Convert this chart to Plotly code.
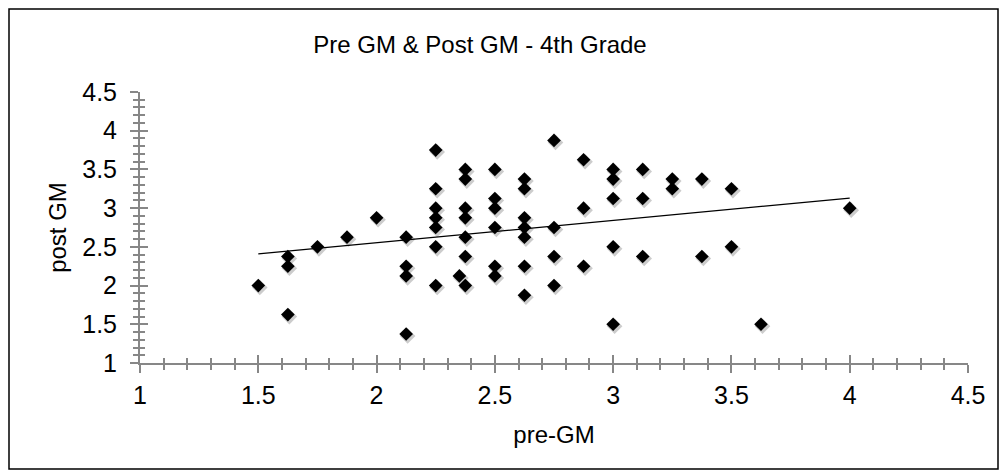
import plotly.graph_objects as go

# ---- data ----
pre_gm = [1.5,
          1.625, 1.625, 1.625,
          1.75,
          1.875,
          2.0,
          2.125, 2.125, 2.125, 2.125,
          2.25, 2.25, 2.25, 2.25, 2.25, 2.25, 2.25,
          2.35,
          2.375, 2.375, 2.375, 2.375, 2.375, 2.375, 2.375,
          2.5, 2.5, 2.5, 2.5, 2.5, 2.5,
          2.625, 2.625, 2.625, 2.625, 2.625, 2.625, 2.625,
          2.75, 2.75, 2.75, 2.75,
          2.875, 2.875, 2.875,
          3.0, 3.0, 3.0, 3.0, 3.0,
          3.125, 3.125, 3.125,
          3.25, 3.25,
          3.375, 3.375,
          3.5, 3.5,
          3.625,
          4.0]
post_gm = [2.0,
           2.375, 2.25, 1.625,
           2.5,
           2.625,
           2.875,
           2.625, 2.25, 2.125, 1.375,
           3.75, 3.25, 3.0, 2.875, 2.75, 2.5, 2.0,
           2.125,
           3.5, 3.375, 3.0, 2.875, 2.625, 2.375, 2.0,
           3.5, 3.125, 3.0, 2.75, 2.25, 2.125,
           3.375, 3.25, 2.875, 2.75, 2.625, 2.25, 1.875,
           3.875, 2.75, 2.375, 2.0,
           3.625, 3.0, 2.25,
           3.5, 3.375, 3.125, 2.5, 1.5,
           3.5, 3.125, 2.375,
           3.375, 3.25,
           3.375, 2.375,
           3.25, 2.5,
           1.5,
           3.0]
trend_x = [1.5, 4.0]
trend_y = [2.41, 3.13]

title_text = "Pre GM & Post GM - 4th Grade"
x_title = "pre-GM"
y_title = "post GM"
x_range = [1, 4.5]
y_range = [1, 4.5]

# ---- layout geometry ----
W, H = 1006, 476
ML, MR, MT, MB = 140, 38, 92, 113
PW = W - ML - MR
PH = H - MT - MB

FONT = "Liberation Sans, Arial, sans-serif"
AXC = "#878787"
TICK_FS = 25
TITLE_FS = 24
AX_TITLE_FS = 24

# shadow offset in pixels -> shifted ranges for a hidden axis pair
sdx, sdy = 1.5, 2.0
xs = (x_range[1] - x_range[0]) / PW * sdx
ys = (y_range[1] - y_range[0]) / PH * sdy

fig = go.Figure()

fig.add_trace(go.Scatter(
    x=pre_gm, y=post_gm, mode="markers", xaxis="x3", yaxis="y3",
    marker=dict(symbol="diamond", size=12, color="rgba(0,0,0,0.2)", line=dict(width=0)),
    hoverinfo="skip", showlegend=False))

fig.add_trace(go.Scatter(
    x=pre_gm, y=post_gm, mode="markers",
    marker=dict(symbol="diamond", size=10.5, color="black", line=dict(width=0)),
    showlegend=False))

fig.add_trace(go.Scatter(
    x=trend_x, y=trend_y, mode="lines",
    line=dict(color="black", width=1.2), showlegend=False))

fig.add_trace(go.Scatter(x=[None], y=[None], xaxis="x2", yaxis="y2",
                         mode="markers", showlegend=False, hoverinfo="skip"))

common = dict(showgrid=False, zeroline=False, tickcolor=AXC, tickwidth=2)

fig.update_layout(
    width=W, height=H,
    margin=dict(l=ML, r=MR, t=MT, b=MB),
    paper_bgcolor="white", plot_bgcolor="white",
    font=dict(family=FONT, color="black"),
    title=dict(text=title_text, x=480 / W, xanchor="center", y=1 - 45 / H, yanchor="middle",
               font=dict(size=TITLE_FS, family=FONT, color="black")),
    xaxis=dict(range=x_range, dtick=0.5, tick0=1, ticks="outside", ticklen=8,
               showline=True, linecolor=AXC, linewidth=2,
               minor=dict(ticks="outside", ticklen=5, dtick=0.1, tickcolor=AXC, tickwidth=2),
               tickfont=dict(size=TICK_FS, family=FONT, color="black"),
               ticklabelstandoff=1,
               title=dict(text=x_title, font=dict(size=AX_TITLE_FS, family=FONT, color="black"), standoff=18),
               **common),
    yaxis=dict(range=y_range, dtick=0.5, tick0=1, ticks="outside", ticklen=8,
               showline=True, linecolor=AXC, linewidth=2,
               minor=dict(ticks="outside", ticklen=5, dtick=0.1, tickcolor=AXC, tickwidth=2),
               tickfont=dict(size=TICK_FS, family=FONT, color="black"),
               ticklabelstandoff=8,
               title=dict(text=y_title, font=dict(size=AX_TITLE_FS, family=FONT, color="black"), standoff=9),
               **common),
    xaxis2=dict(range=x_range, overlaying="x", anchor="y", side="bottom",
                dtick=0.5, tick0=1, ticks="inside", ticklen=8, showticklabels=False,
                showline=False,
                minor=dict(ticks="inside", ticklen=5, dtick=0.1, tickcolor=AXC, tickwidth=2),
                **common),
    yaxis2=dict(range=y_range, overlaying="y", anchor="x", side="left",
                dtick=0.5, tick0=1, ticks="inside", ticklen=8, showticklabels=False,
                showline=False,
                minor=dict(ticks="inside", ticklen=5, dtick=0.1, tickcolor=AXC, tickwidth=2),
                **common),
    xaxis3=dict(range=[x_range[0] - xs, x_range[1] - xs], overlaying="x", anchor="y",
                visible=False, showgrid=False, zeroline=False),
    yaxis3=dict(range=[y_range[0] + ys, y_range[1] + ys], overlaying="y", anchor="x",
                visible=False, showgrid=False, zeroline=False),
)

# outer chart border
bx0, bx1, by0, by1 = 9, 998, 9, 469
fig.add_shape(type="rect", xref="paper", yref="paper",
              x0=(bx0 - ML) / PW, x1=(bx1 - ML) / PW,
              y0=(H - MB - by1) / PH, y1=(H - MB - by0) / PH,
              line=dict(color="black", width=1.5), fillcolor="rgba(0,0,0,0)", layer="below")

fig.write_html("out.html")
